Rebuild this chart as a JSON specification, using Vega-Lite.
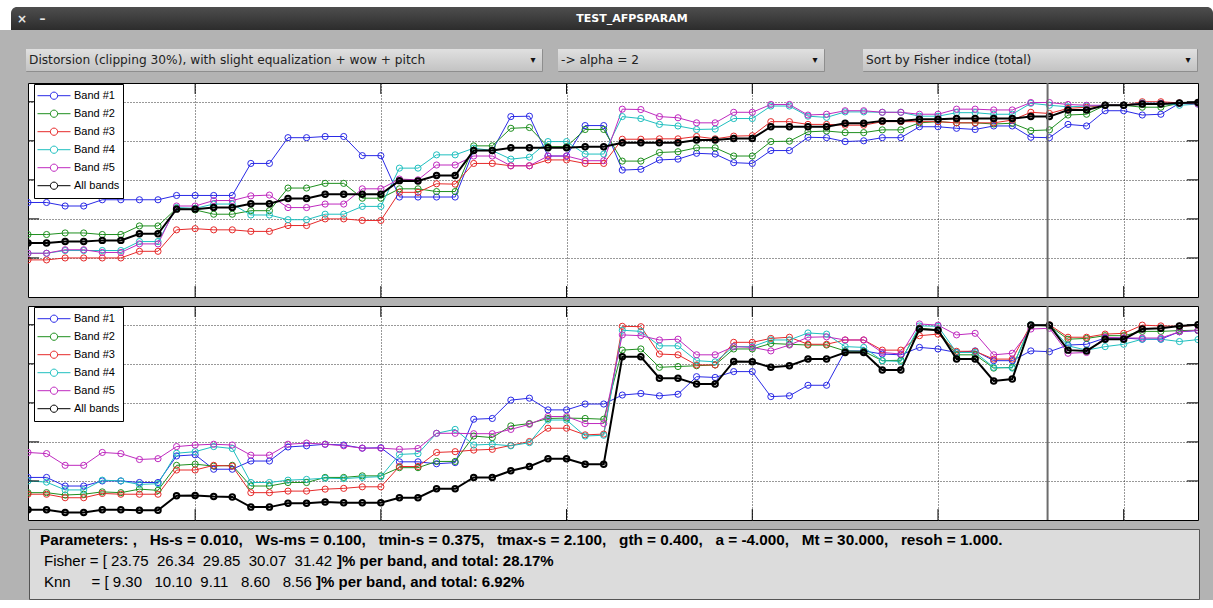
{
"$schema": "https://vega.github.io/schema/vega-lite/v6.json",
"background": "#b3b3b3",
"padding": 0,
"spacing": 8,
"resolve": {"scale": {"color": "independent"}, "legend": {"color": "independent"}},
"config": {"view": {"stroke": null}, "font": "Liberation Sans"},
"datasets": {
"fisher": [
{"band":"Band #1","idx":1,"score":2.42},{"band":"Band #1","idx":2,"score":2.42},{"band":"Band #1","idx":3,"score":2.33},{"band":"Band #1","idx":4,"score":2.33},{"band":"Band #1","idx":5,"score":2.49},{"band":"Band #1","idx":6,"score":2.49},{"band":"Band #1","idx":7,"score":2.49},{"band":"Band #1","idx":8,"score":2.49},{"band":"Band #1","idx":9,"score":2.60},{"band":"Band #1","idx":10,"score":2.60},{"band":"Band #1","idx":11,"score":2.60},{"band":"Band #1","idx":12,"score":2.60},{"band":"Band #1","idx":13,"score":3.42},{"band":"Band #1","idx":14,"score":3.42},{"band":"Band #1","idx":15,"score":4.08},{"band":"Band #1","idx":16,"score":4.08},{"band":"Band #1","idx":17,"score":4.11},{"band":"Band #1","idx":18,"score":4.11},{"band":"Band #1","idx":19,"score":3.62},{"band":"Band #1","idx":20,"score":3.62},{"band":"Band #1","idx":21,"score":2.56},{"band":"Band #1","idx":22,"score":2.56},{"band":"Band #1","idx":23,"score":2.56},{"band":"Band #1","idx":24,"score":2.56},{"band":"Band #1","idx":25,"score":3.75},{"band":"Band #1","idx":26,"score":3.75},{"band":"Band #1","idx":27,"score":4.62},{"band":"Band #1","idx":28,"score":4.63},{"band":"Band #1","idx":29,"score":3.61},{"band":"Band #1","idx":30,"score":3.61},{"band":"Band #1","idx":31,"score":4.39},{"band":"Band #1","idx":32,"score":4.39},{"band":"Band #1","idx":33,"score":3.25},{"band":"Band #1","idx":34,"score":3.27},{"band":"Band #1","idx":35,"score":3.51},{"band":"Band #1","idx":36,"score":3.53},{"band":"Band #1","idx":37,"score":3.68},{"band":"Band #1","idx":38,"score":3.66},{"band":"Band #1","idx":39,"score":3.44},{"band":"Band #1","idx":40,"score":3.42},{"band":"Band #1","idx":41,"score":3.75},{"band":"Band #1","idx":42,"score":3.75},{"band":"Band #1","idx":43,"score":4.09},{"band":"Band #1","idx":44,"score":4.08},{"band":"Band #1","idx":45,"score":3.98},{"band":"Band #1","idx":46,"score":4.00},{"band":"Band #1","idx":47,"score":4.08},{"band":"Band #1","idx":48,"score":4.08},{"band":"Band #1","idx":49,"score":4.36},{"band":"Band #1","idx":50,"score":4.36},{"band":"Band #1","idx":51,"score":4.32},{"band":"Band #1","idx":52,"score":4.29},{"band":"Band #1","idx":53,"score":4.38},{"band":"Band #1","idx":54,"score":4.38},{"band":"Band #1","idx":55,"score":4.09},{"band":"Band #1","idx":56,"score":4.08},{"band":"Band #1","idx":57,"score":4.42},{"band":"Band #1","idx":58,"score":4.38},{"band":"Band #1","idx":59,"score":4.77},{"band":"Band #1","idx":60,"score":4.77},{"band":"Band #1","idx":61,"score":4.66},{"band":"Band #1","idx":62,"score":4.68},{"band":"Band #1","idx":63,"score":4.96},{"band":"Band #1","idx":64,"score":4.97},
{"band":"Band #2","idx":1,"score":1.60},{"band":"Band #2","idx":2,"score":1.60},{"band":"Band #2","idx":3,"score":1.64},{"band":"Band #2","idx":4,"score":1.64},{"band":"Band #2","idx":5,"score":1.60},{"band":"Band #2","idx":6,"score":1.60},{"band":"Band #2","idx":7,"score":1.82},{"band":"Band #2","idx":8,"score":1.82},{"band":"Band #2","idx":9,"score":2.27},{"band":"Band #2","idx":10,"score":2.23},{"band":"Band #2","idx":11,"score":2.12},{"band":"Band #2","idx":12,"score":2.12},{"band":"Band #2","idx":13,"score":2.21},{"band":"Band #2","idx":14,"score":2.21},{"band":"Band #2","idx":15,"score":2.79},{"band":"Band #2","idx":16,"score":2.79},{"band":"Band #2","idx":17,"score":2.91},{"band":"Band #2","idx":18,"score":2.91},{"band":"Band #2","idx":19,"score":2.53},{"band":"Band #2","idx":20,"score":2.53},{"band":"Band #2","idx":21,"score":2.77},{"band":"Band #2","idx":22,"score":2.77},{"band":"Band #2","idx":23,"score":2.70},{"band":"Band #2","idx":24,"score":2.70},{"band":"Band #2","idx":25,"score":3.87},{"band":"Band #2","idx":26,"score":3.87},{"band":"Band #2","idx":27,"score":4.32},{"band":"Band #2","idx":28,"score":4.34},{"band":"Band #2","idx":29,"score":3.85},{"band":"Band #2","idx":30,"score":3.85},{"band":"Band #2","idx":31,"score":4.29},{"band":"Band #2","idx":32,"score":4.29},{"band":"Band #2","idx":33,"score":3.48},{"band":"Band #2","idx":34,"score":3.48},{"band":"Band #2","idx":35,"score":3.70},{"band":"Band #2","idx":36,"score":3.72},{"band":"Band #2","idx":37,"score":3.82},{"band":"Band #2","idx":38,"score":3.82},{"band":"Band #2","idx":39,"score":3.61},{"band":"Band #2","idx":40,"score":3.61},{"band":"Band #2","idx":41,"score":3.98},{"band":"Band #2","idx":42,"score":3.99},{"band":"Band #2","idx":43,"score":4.23},{"band":"Band #2","idx":44,"score":4.25},{"band":"Band #2","idx":45,"score":4.21},{"band":"Band #2","idx":46,"score":4.21},{"band":"Band #2","idx":47,"score":4.28},{"band":"Band #2","idx":48,"score":4.28},{"band":"Band #2","idx":49,"score":4.46},{"band":"Band #2","idx":50,"score":4.49},{"band":"Band #2","idx":51,"score":4.46},{"band":"Band #2","idx":52,"score":4.46},{"band":"Band #2","idx":53,"score":4.43},{"band":"Band #2","idx":54,"score":4.45},{"band":"Band #2","idx":55,"score":4.26},{"band":"Band #2","idx":56,"score":4.28},{"band":"Band #2","idx":57,"score":4.66},{"band":"Band #2","idx":58,"score":4.68},{"band":"Band #2","idx":59,"score":4.91},{"band":"Band #2","idx":60,"score":4.91},{"band":"Band #2","idx":61,"score":4.86},{"band":"Band #2","idx":62,"score":4.86},{"band":"Band #2","idx":63,"score":4.96},{"band":"Band #2","idx":64,"score":4.96},
{"band":"Band #3","idx":1,"score":0.95},{"band":"Band #3","idx":2,"score":0.95},{"band":"Band #3","idx":3,"score":1.00},{"band":"Band #3","idx":4,"score":1.00},{"band":"Band #3","idx":5,"score":1.00},{"band":"Band #3","idx":6,"score":1.00},{"band":"Band #3","idx":7,"score":1.17},{"band":"Band #3","idx":8,"score":1.17},{"band":"Band #3","idx":9,"score":1.72},{"band":"Band #3","idx":10,"score":1.75},{"band":"Band #3","idx":11,"score":1.72},{"band":"Band #3","idx":12,"score":1.72},{"band":"Band #3","idx":13,"score":1.68},{"band":"Band #3","idx":14,"score":1.68},{"band":"Band #3","idx":15,"score":1.83},{"band":"Band #3","idx":16,"score":1.83},{"band":"Band #3","idx":17,"score":2.00},{"band":"Band #3","idx":18,"score":2.00},{"band":"Band #3","idx":19,"score":1.96},{"band":"Band #3","idx":20,"score":1.96},{"band":"Band #3","idx":21,"score":2.68},{"band":"Band #3","idx":22,"score":2.68},{"band":"Band #3","idx":23,"score":2.90},{"band":"Band #3","idx":24,"score":2.89},{"band":"Band #3","idx":25,"score":3.42},{"band":"Band #3","idx":26,"score":3.42},{"band":"Band #3","idx":27,"score":3.36},{"band":"Band #3","idx":28,"score":3.36},{"band":"Band #3","idx":29,"score":3.51},{"band":"Band #3","idx":30,"score":3.51},{"band":"Band #3","idx":31,"score":3.42},{"band":"Band #3","idx":32,"score":3.42},{"band":"Band #3","idx":33,"score":4.04},{"band":"Band #3","idx":34,"score":4.04},{"band":"Band #3","idx":35,"score":4.05},{"band":"Band #3","idx":36,"score":4.05},{"band":"Band #3","idx":37,"score":4.11},{"band":"Band #3","idx":38,"score":4.05},{"band":"Band #3","idx":39,"score":4.12},{"band":"Band #3","idx":40,"score":4.13},{"band":"Band #3","idx":41,"score":4.49},{"band":"Band #3","idx":42,"score":4.49},{"band":"Band #3","idx":43,"score":4.42},{"band":"Band #3","idx":44,"score":4.42},{"band":"Band #3","idx":45,"score":4.40},{"band":"Band #3","idx":46,"score":4.40},{"band":"Band #3","idx":47,"score":4.49},{"band":"Band #3","idx":48,"score":4.49},{"band":"Band #3","idx":49,"score":4.49},{"band":"Band #3","idx":50,"score":4.49},{"band":"Band #3","idx":51,"score":4.46},{"band":"Band #3","idx":52,"score":4.46},{"band":"Band #3","idx":53,"score":4.46},{"band":"Band #3","idx":54,"score":4.53},{"band":"Band #3","idx":55,"score":4.73},{"band":"Band #3","idx":56,"score":4.70},{"band":"Band #3","idx":57,"score":4.83},{"band":"Band #3","idx":58,"score":4.86},{"band":"Band #3","idx":59,"score":4.91},{"band":"Band #3","idx":60,"score":4.91},{"band":"Band #3","idx":61,"score":5.00},{"band":"Band #3","idx":62,"score":5.00},{"band":"Band #3","idx":63,"score":4.97},{"band":"Band #3","idx":64,"score":4.98},
{"band":"Band #4","idx":1,"score":1.12},{"band":"Band #4","idx":2,"score":1.12},{"band":"Band #4","idx":3,"score":1.19},{"band":"Band #4","idx":4,"score":1.19},{"band":"Band #4","idx":5,"score":1.19},{"band":"Band #4","idx":6,"score":1.19},{"band":"Band #4","idx":7,"score":1.42},{"band":"Band #4","idx":8,"score":1.42},{"band":"Band #4","idx":9,"score":2.29},{"band":"Band #4","idx":10,"score":2.27},{"band":"Band #4","idx":11,"score":2.38},{"band":"Band #4","idx":12,"score":2.38},{"band":"Band #4","idx":13,"score":2.10},{"band":"Band #4","idx":14,"score":2.10},{"band":"Band #4","idx":15,"score":1.98},{"band":"Band #4","idx":16,"score":1.98},{"band":"Band #4","idx":17,"score":2.12},{"band":"Band #4","idx":18,"score":2.12},{"band":"Band #4","idx":19,"score":2.32},{"band":"Band #4","idx":20,"score":2.32},{"band":"Band #4","idx":21,"score":3.30},{"band":"Band #4","idx":22,"score":3.30},{"band":"Band #4","idx":23,"score":3.64},{"band":"Band #4","idx":24,"score":3.64},{"band":"Band #4","idx":25,"score":3.81},{"band":"Band #4","idx":26,"score":3.75},{"band":"Band #4","idx":27,"score":3.53},{"band":"Band #4","idx":28,"score":3.58},{"band":"Band #4","idx":29,"score":3.98},{"band":"Band #4","idx":30,"score":3.98},{"band":"Band #4","idx":31,"score":3.66},{"band":"Band #4","idx":32,"score":3.66},{"band":"Band #4","idx":33,"score":4.62},{"band":"Band #4","idx":34,"score":4.57},{"band":"Band #4","idx":35,"score":4.42},{"band":"Band #4","idx":36,"score":4.38},{"band":"Band #4","idx":37,"score":4.29},{"band":"Band #4","idx":38,"score":4.30},{"band":"Band #4","idx":39,"score":4.57},{"band":"Band #4","idx":40,"score":4.57},{"band":"Band #4","idx":41,"score":4.89},{"band":"Band #4","idx":42,"score":4.89},{"band":"Band #4","idx":43,"score":4.63},{"band":"Band #4","idx":44,"score":4.60},{"band":"Band #4","idx":45,"score":4.74},{"band":"Band #4","idx":46,"score":4.74},{"band":"Band #4","idx":47,"score":4.73},{"band":"Band #4","idx":48,"score":4.73},{"band":"Band #4","idx":49,"score":4.63},{"band":"Band #4","idx":50,"score":4.63},{"band":"Band #4","idx":51,"score":4.72},{"band":"Band #4","idx":52,"score":4.72},{"band":"Band #4","idx":53,"score":4.68},{"band":"Band #4","idx":54,"score":4.68},{"band":"Band #4","idx":55,"score":4.96},{"band":"Band #4","idx":56,"score":4.91},{"band":"Band #4","idx":57,"score":4.87},{"band":"Band #4","idx":58,"score":4.89},{"band":"Band #4","idx":59,"score":4.91},{"band":"Band #4","idx":60,"score":4.91},{"band":"Band #4","idx":61,"score":4.97},{"band":"Band #4","idx":62,"score":4.96},{"band":"Band #4","idx":63,"score":4.91},{"band":"Band #4","idx":64,"score":4.94},
{"band":"Band #5","idx":1,"score":1.12},{"band":"Band #5","idx":2,"score":1.12},{"band":"Band #5","idx":3,"score":1.21},{"band":"Band #5","idx":4,"score":1.21},{"band":"Band #5","idx":5,"score":1.14},{"band":"Band #5","idx":6,"score":1.14},{"band":"Band #5","idx":7,"score":1.36},{"band":"Band #5","idx":8,"score":1.36},{"band":"Band #5","idx":9,"score":2.33},{"band":"Band #5","idx":10,"score":2.33},{"band":"Band #5","idx":11,"score":2.47},{"band":"Band #5","idx":12,"score":2.47},{"band":"Band #5","idx":13,"score":2.59},{"band":"Band #5","idx":14,"score":2.61},{"band":"Band #5","idx":15,"score":2.29},{"band":"Band #5","idx":16,"score":2.29},{"band":"Band #5","idx":17,"score":2.38},{"band":"Band #5","idx":18,"score":2.38},{"band":"Band #5","idx":19,"score":2.77},{"band":"Band #5","idx":20,"score":2.77},{"band":"Band #5","idx":21,"score":3.02},{"band":"Band #5","idx":22,"score":3.00},{"band":"Band #5","idx":23,"score":3.38},{"band":"Band #5","idx":24,"score":3.38},{"band":"Band #5","idx":25,"score":3.61},{"band":"Band #5","idx":26,"score":3.61},{"band":"Band #5","idx":27,"score":3.36},{"band":"Band #5","idx":28,"score":3.36},{"band":"Band #5","idx":29,"score":3.61},{"band":"Band #5","idx":30,"score":3.61},{"band":"Band #5","idx":31,"score":3.49},{"band":"Band #5","idx":32,"score":3.49},{"band":"Band #5","idx":33,"score":4.81},{"band":"Band #5","idx":34,"score":4.80},{"band":"Band #5","idx":35,"score":4.62},{"band":"Band #5","idx":36,"score":4.59},{"band":"Band #5","idx":37,"score":4.46},{"band":"Band #5","idx":38,"score":4.46},{"band":"Band #5","idx":39,"score":4.73},{"band":"Band #5","idx":40,"score":4.73},{"band":"Band #5","idx":41,"score":4.93},{"band":"Band #5","idx":42,"score":4.93},{"band":"Band #5","idx":43,"score":4.66},{"band":"Band #5","idx":44,"score":4.68},{"band":"Band #5","idx":45,"score":4.77},{"band":"Band #5","idx":46,"score":4.77},{"band":"Band #5","idx":47,"score":4.73},{"band":"Band #5","idx":48,"score":4.73},{"band":"Band #5","idx":49,"score":4.68},{"band":"Band #5","idx":50,"score":4.68},{"band":"Band #5","idx":51,"score":4.81},{"band":"Band #5","idx":52,"score":4.81},{"band":"Band #5","idx":53,"score":4.79},{"band":"Band #5","idx":54,"score":4.79},{"band":"Band #5","idx":55,"score":4.98},{"band":"Band #5","idx":56,"score":4.98},{"band":"Band #5","idx":57,"score":4.93},{"band":"Band #5","idx":58,"score":4.91},{"band":"Band #5","idx":59,"score":4.91},{"band":"Band #5","idx":60,"score":4.91},{"band":"Band #5","idx":61,"score":4.96},{"band":"Band #5","idx":62,"score":4.96},{"band":"Band #5","idx":63,"score":4.96},{"band":"Band #5","idx":64,"score":4.94},
{"band":"All bands","idx":1,"score":1.38},{"band":"All bands","idx":2,"score":1.38},{"band":"All bands","idx":3,"score":1.42},{"band":"All bands","idx":4,"score":1.42},{"band":"All bands","idx":5,"score":1.45},{"band":"All bands","idx":6,"score":1.45},{"band":"All bands","idx":7,"score":1.62},{"band":"All bands","idx":8,"score":1.62},{"band":"All bands","idx":9,"score":2.25},{"band":"All bands","idx":10,"score":2.25},{"band":"All bands","idx":11,"score":2.29},{"band":"All bands","idx":12,"score":2.29},{"band":"All bands","idx":13,"score":2.39},{"band":"All bands","idx":14,"score":2.39},{"band":"All bands","idx":15,"score":2.52},{"band":"All bands","idx":16,"score":2.52},{"band":"All bands","idx":17,"score":2.63},{"band":"All bands","idx":18,"score":2.63},{"band":"All bands","idx":19,"score":2.63},{"band":"All bands","idx":20,"score":2.63},{"band":"All bands","idx":21,"score":2.98},{"band":"All bands","idx":22,"score":2.97},{"band":"All bands","idx":23,"score":3.11},{"band":"All bands","idx":24,"score":3.11},{"band":"All bands","idx":25,"score":3.75},{"band":"All bands","idx":26,"score":3.75},{"band":"All bands","idx":27,"score":3.82},{"band":"All bands","idx":28,"score":3.82},{"band":"All bands","idx":29,"score":3.82},{"band":"All bands","idx":30,"score":3.82},{"band":"All bands","idx":31,"score":3.85},{"band":"All bands","idx":32,"score":3.85},{"band":"All bands","idx":33,"score":3.95},{"band":"All bands","idx":34,"score":3.95},{"band":"All bands","idx":35,"score":3.95},{"band":"All bands","idx":36,"score":3.95},{"band":"All bands","idx":37,"score":4.02},{"band":"All bands","idx":38,"score":4.02},{"band":"All bands","idx":39,"score":4.06},{"band":"All bands","idx":40,"score":4.06},{"band":"All bands","idx":41,"score":4.36},{"band":"All bands","idx":42,"score":4.36},{"band":"All bands","idx":43,"score":4.36},{"band":"All bands","idx":44,"score":4.36},{"band":"All bands","idx":45,"score":4.45},{"band":"All bands","idx":46,"score":4.45},{"band":"All bands","idx":47,"score":4.51},{"band":"All bands","idx":48,"score":4.51},{"band":"All bands","idx":49,"score":4.55},{"band":"All bands","idx":50,"score":4.55},{"band":"All bands","idx":51,"score":4.57},{"band":"All bands","idx":52,"score":4.57},{"band":"All bands","idx":53,"score":4.57},{"band":"All bands","idx":54,"score":4.57},{"band":"All bands","idx":55,"score":4.62},{"band":"All bands","idx":56,"score":4.62},{"band":"All bands","idx":57,"score":4.79},{"band":"All bands","idx":58,"score":4.79},{"band":"All bands","idx":59,"score":4.91},{"band":"All bands","idx":60,"score":4.91},{"band":"All bands","idx":61,"score":4.94},{"band":"All bands","idx":62,"score":4.94},{"band":"All bands","idx":63,"score":4.97},{"band":"All bands","idx":64,"score":4.98}
],
"knn": [
{"band":"Band #1","idx":1,"score":1.09},{"band":"Band #1","idx":2,"score":1.09},{"band":"Band #1","idx":3,"score":0.87},{"band":"Band #1","idx":4,"score":0.87},{"band":"Band #1","idx":5,"score":1.00},{"band":"Band #1","idx":6,"score":1.00},{"band":"Band #1","idx":7,"score":0.96},{"band":"Band #1","idx":8,"score":0.96},{"band":"Band #1","idx":9,"score":1.64},{"band":"Band #1","idx":10,"score":1.67},{"band":"Band #1","idx":11,"score":1.30},{"band":"Band #1","idx":12,"score":1.30},{"band":"Band #1","idx":13,"score":1.51},{"band":"Band #1","idx":14,"score":1.51},{"band":"Band #1","idx":15,"score":1.87},{"band":"Band #1","idx":16,"score":1.90},{"band":"Band #1","idx":17,"score":1.94},{"band":"Band #1","idx":18,"score":1.92},{"band":"Band #1","idx":19,"score":1.84},{"band":"Band #1","idx":20,"score":1.85},{"band":"Band #1","idx":21,"score":1.49},{"band":"Band #1","idx":22,"score":1.49},{"band":"Band #1","idx":23,"score":1.44},{"band":"Band #1","idx":24,"score":1.47},{"band":"Band #1","idx":25,"score":2.58},{"band":"Band #1","idx":26,"score":2.60},{"band":"Band #1","idx":27,"score":3.07},{"band":"Band #1","idx":28,"score":3.12},{"band":"Band #1","idx":29,"score":2.82},{"band":"Band #1","idx":30,"score":2.82},{"band":"Band #1","idx":31,"score":2.97},{"band":"Band #1","idx":32,"score":2.97},{"band":"Band #1","idx":33,"score":3.20},{"band":"Band #1","idx":34,"score":3.24},{"band":"Band #1","idx":35,"score":3.18},{"band":"Band #1","idx":36,"score":3.22},{"band":"Band #1","idx":37,"score":3.67},{"band":"Band #1","idx":38,"score":3.65},{"band":"Band #1","idx":39,"score":3.80},{"band":"Band #1","idx":40,"score":3.80},{"band":"Band #1","idx":41,"score":3.16},{"band":"Band #1","idx":42,"score":3.18},{"band":"Band #1","idx":43,"score":3.45},{"band":"Band #1","idx":44,"score":3.45},{"band":"Band #1","idx":45,"score":4.33},{"band":"Band #1","idx":46,"score":4.33},{"band":"Band #1","idx":47,"score":4.25},{"band":"Band #1","idx":48,"score":4.23},{"band":"Band #1","idx":49,"score":4.42},{"band":"Band #1","idx":50,"score":4.38},{"band":"Band #1","idx":51,"score":4.29},{"band":"Band #1","idx":52,"score":4.33},{"band":"Band #1","idx":53,"score":4.08},{"band":"Band #1","idx":54,"score":4.08},{"band":"Band #1","idx":55,"score":4.33},{"band":"Band #1","idx":56,"score":4.31},{"band":"Band #1","idx":57,"score":4.48},{"band":"Band #1","idx":58,"score":4.50},{"band":"Band #1","idx":59,"score":4.66},{"band":"Band #1","idx":60,"score":4.66},{"band":"Band #1","idx":61,"score":4.63},{"band":"Band #1","idx":62,"score":4.63},{"band":"Band #1","idx":63,"score":4.82},{"band":"Band #1","idx":64,"score":4.85},
{"band":"Band #2","idx":1,"score":0.70},{"band":"Band #2","idx":2,"score":0.70},{"band":"Band #2","idx":3,"score":0.64},{"band":"Band #2","idx":4,"score":0.66},{"band":"Band #2","idx":5,"score":0.72},{"band":"Band #2","idx":6,"score":0.70},{"band":"Band #2","idx":7,"score":0.79},{"band":"Band #2","idx":8,"score":0.76},{"band":"Band #2","idx":9,"score":1.40},{"band":"Band #2","idx":10,"score":1.43},{"band":"Band #2","idx":11,"score":1.38},{"band":"Band #2","idx":12,"score":1.40},{"band":"Band #2","idx":13,"score":0.87},{"band":"Band #2","idx":14,"score":0.87},{"band":"Band #2","idx":15,"score":0.96},{"band":"Band #2","idx":16,"score":0.96},{"band":"Band #2","idx":17,"score":1.09},{"band":"Band #2","idx":18,"score":1.09},{"band":"Band #2","idx":19,"score":1.13},{"band":"Band #2","idx":20,"score":1.13},{"band":"Band #2","idx":21,"score":1.34},{"band":"Band #2","idx":22,"score":1.34},{"band":"Band #2","idx":23,"score":1.50},{"band":"Band #2","idx":24,"score":1.50},{"band":"Band #2","idx":25,"score":2.15},{"band":"Band #2","idx":26,"score":2.11},{"band":"Band #2","idx":27,"score":2.41},{"band":"Band #2","idx":28,"score":2.47},{"band":"Band #2","idx":29,"score":2.60},{"band":"Band #2","idx":30,"score":2.61},{"band":"Band #2","idx":31,"score":2.60},{"band":"Band #2","idx":32,"score":2.58},{"band":"Band #2","idx":33,"score":4.35},{"band":"Band #2","idx":34,"score":4.38},{"band":"Band #2","idx":35,"score":3.91},{"band":"Band #2","idx":36,"score":3.93},{"band":"Band #2","idx":37,"score":3.95},{"band":"Band #2","idx":38,"score":3.97},{"band":"Band #2","idx":39,"score":4.38},{"band":"Band #2","idx":40,"score":4.38},{"band":"Band #2","idx":41,"score":4.52},{"band":"Band #2","idx":42,"score":4.50},{"band":"Band #2","idx":43,"score":4.48},{"band":"Band #2","idx":44,"score":4.48},{"band":"Band #2","idx":45,"score":4.33},{"band":"Band #2","idx":46,"score":4.32},{"band":"Band #2","idx":47,"score":4.08},{"band":"Band #2","idx":48,"score":4.09},{"band":"Band #2","idx":49,"score":4.91},{"band":"Band #2","idx":50,"score":4.87},{"band":"Band #2","idx":51,"score":4.23},{"band":"Band #2","idx":52,"score":4.23},{"band":"Band #2","idx":53,"score":3.89},{"band":"Band #2","idx":54,"score":3.91},{"band":"Band #2","idx":55,"score":4.99},{"band":"Band #2","idx":56,"score":4.97},{"band":"Band #2","idx":57,"score":4.63},{"band":"Band #2","idx":58,"score":4.65},{"band":"Band #2","idx":59,"score":4.72},{"band":"Band #2","idx":60,"score":4.72},{"band":"Band #2","idx":61,"score":4.83},{"band":"Band #2","idx":62,"score":4.83},{"band":"Band #2","idx":63,"score":4.85},{"band":"Band #2","idx":64,"score":4.86},
{"band":"Band #3","idx":1,"score":0.66},{"band":"Band #3","idx":2,"score":0.66},{"band":"Band #3","idx":3,"score":0.57},{"band":"Band #3","idx":4,"score":0.57},{"band":"Band #3","idx":5,"score":0.68},{"band":"Band #3","idx":6,"score":0.66},{"band":"Band #3","idx":7,"score":0.66},{"band":"Band #3","idx":8,"score":0.66},{"band":"Band #3","idx":9,"score":1.28},{"band":"Band #3","idx":10,"score":1.28},{"band":"Band #3","idx":11,"score":1.40},{"band":"Band #3","idx":12,"score":1.38},{"band":"Band #3","idx":13,"score":0.70},{"band":"Band #3","idx":14,"score":0.70},{"band":"Band #3","idx":15,"score":0.74},{"band":"Band #3","idx":16,"score":0.74},{"band":"Band #3","idx":17,"score":0.79},{"band":"Band #3","idx":18,"score":0.81},{"band":"Band #3","idx":19,"score":0.85},{"band":"Band #3","idx":20,"score":0.85},{"band":"Band #3","idx":21,"score":1.37},{"band":"Band #3","idx":22,"score":1.37},{"band":"Band #3","idx":23,"score":1.73},{"band":"Band #3","idx":24,"score":1.75},{"band":"Band #3","idx":25,"score":1.79},{"band":"Band #3","idx":26,"score":1.81},{"band":"Band #3","idx":27,"score":1.91},{"band":"Band #3","idx":28,"score":2.01},{"band":"Band #3","idx":29,"score":2.35},{"band":"Band #3","idx":30,"score":2.35},{"band":"Band #3","idx":31,"score":2.18},{"band":"Band #3","idx":32,"score":2.20},{"band":"Band #3","idx":33,"score":4.96},{"band":"Band #3","idx":34,"score":4.95},{"band":"Band #3","idx":35,"score":4.25},{"band":"Band #3","idx":36,"score":4.23},{"band":"Band #3","idx":37,"score":3.97},{"band":"Band #3","idx":38,"score":3.97},{"band":"Band #3","idx":39,"score":4.55},{"band":"Band #3","idx":40,"score":4.55},{"band":"Band #3","idx":41,"score":4.65},{"band":"Band #3","idx":42,"score":4.68},{"band":"Band #3","idx":43,"score":4.50},{"band":"Band #3","idx":44,"score":4.50},{"band":"Band #3","idx":45,"score":4.61},{"band":"Band #3","idx":46,"score":4.61},{"band":"Band #3","idx":47,"score":4.35},{"band":"Band #3","idx":48,"score":4.35},{"band":"Band #3","idx":49,"score":4.72},{"band":"Band #3","idx":50,"score":4.76},{"band":"Band #3","idx":51,"score":4.32},{"band":"Band #3","idx":52,"score":4.32},{"band":"Band #3","idx":53,"score":4.12},{"band":"Band #3","idx":54,"score":4.12},{"band":"Band #3","idx":55,"score":5.00},{"band":"Band #3","idx":56,"score":5.00},{"band":"Band #3","idx":57,"score":4.68},{"band":"Band #3","idx":58,"score":4.68},{"band":"Band #3","idx":59,"score":4.76},{"band":"Band #3","idx":60,"score":4.78},{"band":"Band #3","idx":61,"score":4.99},{"band":"Band #3","idx":62,"score":4.97},{"band":"Band #3","idx":63,"score":4.96},{"band":"Band #3","idx":64,"score":4.99},
{"band":"Band #4","idx":1,"score":1.00},{"band":"Band #4","idx":2,"score":0.97},{"band":"Band #4","idx":3,"score":0.77},{"band":"Band #4","idx":4,"score":0.77},{"band":"Band #4","idx":5,"score":1.02},{"band":"Band #4","idx":6,"score":1.00},{"band":"Band #4","idx":7,"score":0.91},{"band":"Band #4","idx":8,"score":0.93},{"band":"Band #4","idx":9,"score":1.71},{"band":"Band #4","idx":10,"score":1.75},{"band":"Band #4","idx":11,"score":1.88},{"band":"Band #4","idx":12,"score":1.83},{"band":"Band #4","idx":13,"score":0.96},{"band":"Band #4","idx":14,"score":0.96},{"band":"Band #4","idx":15,"score":1.02},{"band":"Band #4","idx":16,"score":1.04},{"band":"Band #4","idx":17,"score":1.07},{"band":"Band #4","idx":18,"score":1.06},{"band":"Band #4","idx":19,"score":1.09},{"band":"Band #4","idx":20,"score":1.11},{"band":"Band #4","idx":21,"score":1.68},{"band":"Band #4","idx":22,"score":1.70},{"band":"Band #4","idx":23,"score":2.22},{"band":"Band #4","idx":24,"score":2.32},{"band":"Band #4","idx":25,"score":1.92},{"band":"Band #4","idx":26,"score":1.94},{"band":"Band #4","idx":27,"score":1.90},{"band":"Band #4","idx":28,"score":1.98},{"band":"Band #4","idx":29,"score":2.56},{"band":"Band #4","idx":30,"score":2.56},{"band":"Band #4","idx":31,"score":2.15},{"band":"Band #4","idx":32,"score":2.17},{"band":"Band #4","idx":33,"score":4.86},{"band":"Band #4","idx":34,"score":4.83},{"band":"Band #4","idx":35,"score":4.46},{"band":"Band #4","idx":36,"score":4.46},{"band":"Band #4","idx":37,"score":4.08},{"band":"Band #4","idx":38,"score":4.05},{"band":"Band #4","idx":39,"score":4.44},{"band":"Band #4","idx":40,"score":4.44},{"band":"Band #4","idx":41,"score":4.61},{"band":"Band #4","idx":42,"score":4.61},{"band":"Band #4","idx":43,"score":4.79},{"band":"Band #4","idx":44,"score":4.76},{"band":"Band #4","idx":45,"score":4.44},{"band":"Band #4","idx":46,"score":4.42},{"band":"Band #4","idx":47,"score":4.08},{"band":"Band #4","idx":48,"score":4.06},{"band":"Band #4","idx":49,"score":4.97},{"band":"Band #4","idx":50,"score":4.96},{"band":"Band #4","idx":51,"score":4.29},{"band":"Band #4","idx":52,"score":4.29},{"band":"Band #4","idx":53,"score":3.91},{"band":"Band #4","idx":54,"score":3.89},{"band":"Band #4","idx":55,"score":5.00},{"band":"Band #4","idx":56,"score":4.99},{"band":"Band #4","idx":57,"score":4.46},{"band":"Band #4","idx":58,"score":4.35},{"band":"Band #4","idx":59,"score":4.44},{"band":"Band #4","idx":60,"score":4.50},{"band":"Band #4","idx":61,"score":4.63},{"band":"Band #4","idx":62,"score":4.63},{"band":"Band #4","idx":63,"score":4.57},{"band":"Band #4","idx":64,"score":4.62},
{"band":"Band #5","idx":1,"score":1.73},{"band":"Band #5","idx":2,"score":1.70},{"band":"Band #5","idx":3,"score":1.40},{"band":"Band #5","idx":4,"score":1.40},{"band":"Band #5","idx":5,"score":1.73},{"band":"Band #5","idx":6,"score":1.70},{"band":"Band #5","idx":7,"score":1.55},{"band":"Band #5","idx":8,"score":1.57},{"band":"Band #5","idx":9,"score":1.88},{"band":"Band #5","idx":10,"score":1.92},{"band":"Band #5","idx":11,"score":1.94},{"band":"Band #5","idx":12,"score":1.92},{"band":"Band #5","idx":13,"score":1.66},{"band":"Band #5","idx":14,"score":1.66},{"band":"Band #5","idx":15,"score":1.94},{"band":"Band #5","idx":16,"score":1.97},{"band":"Band #5","idx":17,"score":1.94},{"band":"Band #5","idx":18,"score":1.90},{"band":"Band #5","idx":19,"score":1.84},{"band":"Band #5","idx":20,"score":1.84},{"band":"Band #5","idx":21,"score":1.81},{"band":"Band #5","idx":22,"score":1.83},{"band":"Band #5","idx":23,"score":2.22},{"band":"Band #5","idx":24,"score":2.22},{"band":"Band #5","idx":25,"score":2.21},{"band":"Band #5","idx":26,"score":2.21},{"band":"Band #5","idx":27,"score":2.32},{"band":"Band #5","idx":28,"score":2.45},{"band":"Band #5","idx":29,"score":2.65},{"band":"Band #5","idx":30,"score":2.65},{"band":"Band #5","idx":31,"score":2.47},{"band":"Band #5","idx":32,"score":2.47},{"band":"Band #5","idx":33,"score":4.74},{"band":"Band #5","idx":34,"score":4.72},{"band":"Band #5","idx":35,"score":4.61},{"band":"Band #5","idx":36,"score":4.63},{"band":"Band #5","idx":37,"score":4.23},{"band":"Band #5","idx":38,"score":4.23},{"band":"Band #5","idx":39,"score":4.44},{"band":"Band #5","idx":40,"score":4.42},{"band":"Band #5","idx":41,"score":4.33},{"band":"Band #5","idx":42,"score":4.48},{"band":"Band #5","idx":43,"score":4.68},{"band":"Band #5","idx":44,"score":4.69},{"band":"Band #5","idx":45,"score":4.61},{"band":"Band #5","idx":46,"score":4.61},{"band":"Band #5","idx":47,"score":4.29},{"band":"Band #5","idx":48,"score":4.25},{"band":"Band #5","idx":49,"score":5.02},{"band":"Band #5","idx":50,"score":4.99},{"band":"Band #5","idx":51,"score":4.74},{"band":"Band #5","idx":52,"score":4.78},{"band":"Band #5","idx":53,"score":4.23},{"band":"Band #5","idx":54,"score":4.27},{"band":"Band #5","idx":55,"score":4.89},{"band":"Band #5","idx":56,"score":4.91},{"band":"Band #5","idx":57,"score":4.27},{"band":"Band #5","idx":58,"score":4.29},{"band":"Band #5","idx":59,"score":4.68},{"band":"Band #5","idx":60,"score":4.66},{"band":"Band #5","idx":61,"score":4.66},{"band":"Band #5","idx":62,"score":4.66},{"band":"Band #5","idx":63,"score":4.82},{"band":"Band #5","idx":64,"score":4.86},
{"band":"All bands","idx":1,"score":0.26},{"band":"All bands","idx":2,"score":0.26},{"band":"All bands","idx":3,"score":0.19},{"band":"All bands","idx":4,"score":0.19},{"band":"All bands","idx":5,"score":0.26},{"band":"All bands","idx":6,"score":0.26},{"band":"All bands","idx":7,"score":0.25},{"band":"All bands","idx":8,"score":0.25},{"band":"All bands","idx":9,"score":0.62},{"band":"All bands","idx":10,"score":0.63},{"band":"All bands","idx":11,"score":0.60},{"band":"All bands","idx":12,"score":0.59},{"band":"All bands","idx":13,"score":0.33},{"band":"All bands","idx":14,"score":0.33},{"band":"All bands","idx":15,"score":0.43},{"band":"All bands","idx":16,"score":0.43},{"band":"All bands","idx":17,"score":0.46},{"band":"All bands","idx":18,"score":0.44},{"band":"All bands","idx":19,"score":0.44},{"band":"All bands","idx":20,"score":0.44},{"band":"All bands","idx":21,"score":0.57},{"band":"All bands","idx":22,"score":0.57},{"band":"All bands","idx":23,"score":0.80},{"band":"All bands","idx":24,"score":0.80},{"band":"All bands","idx":25,"score":1.09},{"band":"All bands","idx":26,"score":1.09},{"band":"All bands","idx":27,"score":1.26},{"band":"All bands","idx":28,"score":1.37},{"band":"All bands","idx":29,"score":1.57},{"band":"All bands","idx":30,"score":1.57},{"band":"All bands","idx":31,"score":1.43},{"band":"All bands","idx":32,"score":1.43},{"band":"All bands","idx":33,"score":4.18},{"band":"All bands","idx":34,"score":4.18},{"band":"All bands","idx":35,"score":3.63},{"band":"All bands","idx":36,"score":3.63},{"band":"All bands","idx":37,"score":3.48},{"band":"All bands","idx":38,"score":3.48},{"band":"All bands","idx":39,"score":4.06},{"band":"All bands","idx":40,"score":4.05},{"band":"All bands","idx":41,"score":3.91},{"band":"All bands","idx":42,"score":3.95},{"band":"All bands","idx":43,"score":4.12},{"band":"All bands","idx":44,"score":4.12},{"band":"All bands","idx":45,"score":4.29},{"band":"All bands","idx":46,"score":4.29},{"band":"All bands","idx":47,"score":3.84},{"band":"All bands","idx":48,"score":3.84},{"band":"All bands","idx":49,"score":4.89},{"band":"All bands","idx":50,"score":4.86},{"band":"All bands","idx":51,"score":4.12},{"band":"All bands","idx":52,"score":4.12},{"band":"All bands","idx":53,"score":3.56},{"band":"All bands","idx":54,"score":3.61},{"band":"All bands","idx":55,"score":4.99},{"band":"All bands","idx":56,"score":4.99},{"band":"All bands","idx":57,"score":4.35},{"band":"All bands","idx":58,"score":4.33},{"band":"All bands","idx":59,"score":4.63},{"band":"All bands","idx":60,"score":4.63},{"band":"All bands","idx":61,"score":4.89},{"band":"All bands","idx":62,"score":4.91},{"band":"All bands","idx":63,"score":4.97},{"band":"All bands","idx":64,"score":5.00}
],
"xticks": [{"tick": 10}, {"tick": 20}, {"tick": 30}, {"tick": 40}, {"tick": 50}, {"tick": 60}],
"yticks": [{"tick": 1}, {"tick": 2}, {"tick": 3}, {"tick": 4}, {"tick": 5}]
},
"vconcat": [
{"spacing": 0, "vconcat": [
  {"width": 1213, "height": 7, "view": {"fill": "#ffffff", "stroke": null}, "data": {"values": []}, "mark": "rect"},
  {"spacing": 0, "hconcat": [
    {"width": 11, "height": 23, "view": {"fill": "#ffffff", "stroke": null}, "data": {"values": []}, "mark": "rect"},
    {"width": 1202, "height": 23, "view": {"fill": "#ffffff", "stroke": null},
     "data": {"values": [{"label": "TEST_AFPSPARAM"}]},
     "layer": [
       {"mark": {"type": "rect", "cornerRadiusTopLeft": 6, "cornerRadiusTopRight": 6, "fill": {"gradient": "linear", "x1": 0, "y1": 0, "x2": 0, "y2": 1, "stops": [{"offset": 0, "color": "#4e4e4e"}, {"offset": 1, "color": "#2c2c2c"}]}},
        "encoding": {"x": {"datum": 0, "type": "quantitative", "scale": {"domain": [0, 1]}, "axis": null}, "x2": {"datum": 1}, "y": {"datum": 0, "type": "quantitative", "scale": {"domain": [0, 1]}, "axis": null}, "y2": {"datum": 1}}},
       {"mark": {"type": "text", "font": "DejaVu Sans", "fontWeight": "bold", "fontSize": 11, "color": "#ffffff", "dx": 20},
        "encoding": {"text": {"field": "label"}, "x": {"datum": 0.5, "type": "quantitative"}, "y": {"datum": 0.5, "type": "quantitative"}}},
       {"mark": {"type": "text", "font": "DejaVu Sans", "fontWeight": "bold", "fontSize": 12, "color": "#e6e6e6", "align": "left", "dx": 6},
        "encoding": {"text": {"value": "×\u00a0\u00a0\u00a0–"}, "x": {"datum": 0, "type": "quantitative"}, "y": {"datum": 0.5, "type": "quantitative"}}}
     ]}
  ]},
  {"width": 1, "height": 10, "data": {"values": []}, "mark": "rect"}
]},
{"spacing": 14, "hconcat": [
  {"width": 10.5, "height": 24.5, "data": {"values": []}, "mark": "rect"},
  {"width": 516, "height": 22, "view": {"stroke": "#8e8e8e", "strokeWidth": 1},
   "data": {"values": [{"label": "Distorsion (clipping 30%), with slight equalization + wow + pitch"}]},
   "layer": [
     {"mark": {"type": "rect", "fill": {"gradient": "linear", "x1": 0, "y1": 0, "x2": 0, "y2": 1, "stops": [{"offset": 0, "color": "#e0e0e0"}, {"offset": 1, "color": "#c3c3c3"}]}},
      "encoding": {"x": {"datum": 0, "type": "quantitative", "scale": {"domain": [0, 1]}, "axis": null}, "x2": {"datum": 1}, "y": {"datum": 0, "type": "quantitative", "scale": {"domain": [0, 1]}, "axis": null}, "y2": {"datum": 1}}},
     {"mark": {"type": "text", "font": "DejaVu Sans", "fontSize": 12.2, "color": "#222222", "align": "left", "dx": 3},
      "encoding": {"text": {"field": "label"}, "x": {"datum": 0, "type": "quantitative"}, "y": {"datum": 0.5, "type": "quantitative"}}},
     {"mark": {"type": "text", "font": "DejaVu Sans", "fontSize": 10, "color": "#111111", "dx": -9},
      "encoding": {"text": {"value": "▾"}, "x": {"datum": 1, "type": "quantitative"}, "y": {"datum": 0.5, "type": "quantitative"}}}
   ]},
  {"width": 266, "height": 22, "view": {"stroke": "#8e8e8e", "strokeWidth": 1},
   "data": {"values": [{"label": "-> alpha = 2"}]},
   "layer": [
     {"mark": {"type": "rect", "fill": {"gradient": "linear", "x1": 0, "y1": 0, "x2": 0, "y2": 1, "stops": [{"offset": 0, "color": "#e0e0e0"}, {"offset": 1, "color": "#c3c3c3"}]}},
      "encoding": {"x": {"datum": 0, "type": "quantitative", "scale": {"domain": [0, 1]}, "axis": null}, "x2": {"datum": 1}, "y": {"datum": 0, "type": "quantitative", "scale": {"domain": [0, 1]}, "axis": null}, "y2": {"datum": 1}}},
     {"mark": {"type": "text", "font": "DejaVu Sans", "fontSize": 12.2, "color": "#222222", "align": "left", "dx": 3},
      "encoding": {"text": {"field": "label"}, "x": {"datum": 0, "type": "quantitative"}, "y": {"datum": 0.5, "type": "quantitative"}}},
     {"mark": {"type": "text", "font": "DejaVu Sans", "fontSize": 10, "color": "#111111", "dx": -9},
      "encoding": {"text": {"value": "▾"}, "x": {"datum": 1, "type": "quantitative"}, "y": {"datum": 0.5, "type": "quantitative"}}}
   ]},
  {"width": 9, "height": 24.5, "data": {"values": []}, "mark": "rect"},
  {"width": 334, "height": 22, "view": {"stroke": "#8e8e8e", "strokeWidth": 1},
   "data": {"values": [{"label": "Sort by Fisher indice (total)"}]},
   "layer": [
     {"mark": {"type": "rect", "fill": {"gradient": "linear", "x1": 0, "y1": 0, "x2": 0, "y2": 1, "stops": [{"offset": 0, "color": "#e0e0e0"}, {"offset": 1, "color": "#c3c3c3"}]}},
      "encoding": {"x": {"datum": 0, "type": "quantitative", "scale": {"domain": [0, 1]}, "axis": null}, "x2": {"datum": 1}, "y": {"datum": 0, "type": "quantitative", "scale": {"domain": [0, 1]}, "axis": null}, "y2": {"datum": 1}}},
     {"mark": {"type": "text", "font": "DejaVu Sans", "fontSize": 12.2, "color": "#222222", "align": "left", "dx": 3},
      "encoding": {"text": {"field": "label"}, "x": {"datum": 0, "type": "quantitative"}, "y": {"datum": 0.5, "type": "quantitative"}}},
     {"mark": {"type": "text", "font": "DejaVu Sans", "fontSize": 10, "color": "#111111", "dx": -9},
      "encoding": {"text": {"value": "▾"}, "x": {"datum": 1, "type": "quantitative"}, "y": {"datum": 0.5, "type": "quantitative"}}}
   ]}
]},
{"spacing": 7, "resolve": {"scale": {"color": "independent"}, "legend": {"color": "independent"}}, "vconcat": [
{"spacing": 15, "resolve": {"scale": {"color": "independent"}, "legend": {"color": "independent"}}, "hconcat": [
  {"width": 12, "height": 214, "data": {"values": []}, "mark": "rect"},
  {"width": 1170, "height": 214, "view": {"stroke": "#000000", "strokeWidth": 1, "fill": "#ffffff"},
   "resolve": {"axis": {"x": "independent", "y": "independent"}},
   "layer": [
     {"data": {"name": "fisher"}, "transform": [{"filter": "datum.band !== 'All bands'"}],
      "mark": {"type": "line", "clip": true, "strokeWidth": 1},
      "encoding": {
        "x": {"field": "idx", "type": "quantitative", "scale": {"domain": [1, 64], "nice": false, "zero": false}, "axis": {"orient": "bottom", "values": [10, 20, 30, 40, 50, 60], "labels": false, "domain": false, "ticks": false, "title": null, "grid": true, "gridDash": [1, 2], "gridColor": "#333333", "minExtent": 0}},
        "y": {"field": "score", "type": "quantitative", "scale": {"domain": [0, 5.48], "nice": false, "zero": false}, "axis": {"orient": "left", "values": [1, 2, 3, 4, 5], "labels": false, "domain": false, "ticks": false, "title": null, "grid": true, "gridDash": [1, 2], "gridColor": "#333333", "minExtent": 0}},
        "color": {"field": "band", "type": "nominal", "scale": {"domain": ["Band #1", "Band #2", "Band #3", "Band #4", "Band #5", "All bands"], "range": ["#2a2ae6", "#1f8f1f", "#e62a2a", "#1fbfbf", "#bf2abf", "#000000"]},
          "legend": {"title": null, "orient": "none", "legendX": 6, "legendY": 1, "direction": "vertical", "padding": 3, "fillColor": "#ffffff", "strokeColor": "#000000", "symbolType": "M-1,0L-0.22,0M0.22,0L1,0M-0.22,0A0.22,0.22,0,1,1,0.22,0A0.22,0.22,0,1,1,-0.22,0", "symbolSize": 1089, "symbolFillColor": "transparent", "symbolStrokeWidth": 1, "clipHeight": 17.4, "rowPadding": 0, "labelOffset": 3, "labelFont": "Liberation Sans", "labelFontSize": 11, "labelColor": "#000000"}}
      }},
     {"data": {"name": "fisher"}, "transform": [{"filter": "datum.band !== 'All bands'"}],
      "mark": {"type": "point", "filled": false, "size": 38, "opacity": 1, "strokeWidth": 1, "clip": true},
      "encoding": {
        "x": {"field": "idx", "type": "quantitative", "axis": null},
        "y": {"field": "score", "type": "quantitative", "axis": null},
        "color": {"field": "band", "type": "nominal", "legend": null}
      }},
     {"data": {"name": "fisher"}, "transform": [{"filter": "datum.band === 'All bands'"}],
      "mark": {"type": "line", "clip": true, "strokeWidth": 2},
      "encoding": {
        "x": {"field": "idx", "type": "quantitative", "axis": null},
        "y": {"field": "score", "type": "quantitative", "axis": null},
        "color": {"field": "band", "type": "nominal", "legend": null}
      }},
     {"data": {"name": "fisher"}, "transform": [{"filter": "datum.band === 'All bands'"}],
      "mark": {"type": "point", "filled": false, "size": 30, "opacity": 1, "strokeWidth": 2, "clip": true},
      "encoding": {
        "x": {"field": "idx", "type": "quantitative", "axis": null},
        "y": {"field": "score", "type": "quantitative", "axis": null},
        "color": {"field": "band", "type": "nominal", "legend": null}
      }},
     {"data": {"name": "xticks"}, "mark": {"type": "rule", "color": "#000000", "strokeWidth": 1, "clip": true},
      "encoding": {"x": {"field": "tick", "type": "quantitative", "axis": null}, "y": {"datum": 0, "type": "quantitative", "axis": null}, "y2": {"datum": 0.28}}},
     {"data": {"name": "xticks"}, "mark": {"type": "rule", "color": "#000000", "strokeWidth": 1, "clip": true},
      "encoding": {"x": {"field": "tick", "type": "quantitative", "axis": null}, "y": {"datum": 5.48, "type": "quantitative", "axis": null}, "y2": {"datum": 5.2}}},
     {"data": {"name": "yticks"}, "mark": {"type": "rule", "color": "#000000", "strokeWidth": 1, "clip": true},
      "encoding": {"y": {"field": "tick", "type": "quantitative", "axis": null}, "x": {"datum": 1, "type": "quantitative", "axis": null}, "x2": {"datum": 1.6}}},
     {"data": {"name": "yticks"}, "mark": {"type": "rule", "color": "#000000", "strokeWidth": 1, "clip": true},
      "encoding": {"y": {"field": "tick", "type": "quantitative", "axis": null}, "x": {"datum": 64, "type": "quantitative", "axis": null}, "x2": {"datum": 63.4}}},
     {"data": {"values": [{"cursor": 55.9}]},
      "mark": {"type": "rule", "color": "#6c6c6c", "strokeWidth": 2, "clip": true},
      "encoding": {"x": {"field": "cursor", "type": "quantitative", "axis": null}}}
   ]}
]},
{"spacing": 15, "resolve": {"scale": {"color": "independent"}, "legend": {"color": "independent"}}, "hconcat": [
  {"width": 12, "height": 214, "data": {"values": []}, "mark": "rect"},
  {"width": 1170, "height": 214, "view": {"stroke": "#000000", "strokeWidth": 1, "fill": "#ffffff"},
   "resolve": {"axis": {"x": "independent", "y": "independent"}},
   "layer": [
     {"data": {"name": "knn"}, "transform": [{"filter": "datum.band !== 'All bands'"}],
      "mark": {"type": "line", "clip": true, "strokeWidth": 1},
      "encoding": {
        "x": {"field": "idx", "type": "quantitative", "scale": {"domain": [1, 64], "nice": false, "zero": false}, "axis": {"orient": "bottom", "values": [10, 20, 30, 40, 50, 60], "labels": false, "domain": false, "ticks": false, "title": null, "grid": true, "gridDash": [1, 2], "gridColor": "#333333", "minExtent": 0}},
        "y": {"field": "score", "type": "quantitative", "scale": {"domain": [0, 5.48], "nice": false, "zero": false}, "axis": {"orient": "left", "values": [1, 2, 3, 4, 5], "labels": false, "domain": false, "ticks": false, "title": null, "grid": true, "gridDash": [1, 2], "gridColor": "#333333", "minExtent": 0}},
        "color": {"field": "band", "type": "nominal", "scale": {"domain": ["Band #1", "Band #2", "Band #3", "Band #4", "Band #5", "All bands"], "range": ["#2a2ae6", "#1f8f1f", "#e62a2a", "#1fbfbf", "#bf2abf", "#000000"]},
          "legend": {"title": null, "orient": "none", "legendX": 6, "legendY": 1, "direction": "vertical", "padding": 3, "fillColor": "#ffffff", "strokeColor": "#000000", "symbolType": "M-1,0L-0.22,0M0.22,0L1,0M-0.22,0A0.22,0.22,0,1,1,0.22,0A0.22,0.22,0,1,1,-0.22,0", "symbolSize": 1089, "symbolFillColor": "transparent", "symbolStrokeWidth": 1, "clipHeight": 17.4, "rowPadding": 0, "labelOffset": 3, "labelFont": "Liberation Sans", "labelFontSize": 11, "labelColor": "#000000"}}
      }},
     {"data": {"name": "knn"}, "transform": [{"filter": "datum.band !== 'All bands'"}],
      "mark": {"type": "point", "filled": false, "size": 38, "opacity": 1, "strokeWidth": 1, "clip": true},
      "encoding": {
        "x": {"field": "idx", "type": "quantitative", "axis": null},
        "y": {"field": "score", "type": "quantitative", "axis": null},
        "color": {"field": "band", "type": "nominal", "legend": null}
      }},
     {"data": {"name": "knn"}, "transform": [{"filter": "datum.band === 'All bands'"}],
      "mark": {"type": "line", "clip": true, "strokeWidth": 2},
      "encoding": {
        "x": {"field": "idx", "type": "quantitative", "axis": null},
        "y": {"field": "score", "type": "quantitative", "axis": null},
        "color": {"field": "band", "type": "nominal", "legend": null}
      }},
     {"data": {"name": "knn"}, "transform": [{"filter": "datum.band === 'All bands'"}],
      "mark": {"type": "point", "filled": false, "size": 30, "opacity": 1, "strokeWidth": 2, "clip": true},
      "encoding": {
        "x": {"field": "idx", "type": "quantitative", "axis": null},
        "y": {"field": "score", "type": "quantitative", "axis": null},
        "color": {"field": "band", "type": "nominal", "legend": null}
      }},
     {"data": {"name": "xticks"}, "mark": {"type": "rule", "color": "#000000", "strokeWidth": 1, "clip": true},
      "encoding": {"x": {"field": "tick", "type": "quantitative", "axis": null}, "y": {"datum": 0, "type": "quantitative", "axis": null}, "y2": {"datum": 0.28}}},
     {"data": {"name": "xticks"}, "mark": {"type": "rule", "color": "#000000", "strokeWidth": 1, "clip": true},
      "encoding": {"x": {"field": "tick", "type": "quantitative", "axis": null}, "y": {"datum": 5.48, "type": "quantitative", "axis": null}, "y2": {"datum": 5.2}}},
     {"data": {"name": "yticks"}, "mark": {"type": "rule", "color": "#000000", "strokeWidth": 1, "clip": true},
      "encoding": {"y": {"field": "tick", "type": "quantitative", "axis": null}, "x": {"datum": 1, "type": "quantitative", "axis": null}, "x2": {"datum": 1.6}}},
     {"data": {"name": "yticks"}, "mark": {"type": "rule", "color": "#000000", "strokeWidth": 1, "clip": true},
      "encoding": {"y": {"field": "tick", "type": "quantitative", "axis": null}, "x": {"datum": 64, "type": "quantitative", "axis": null}, "x2": {"datum": 63.4}}},
     {"data": {"values": [{"cursor": 55.9}]},
      "mark": {"type": "rule", "color": "#6c6c6c", "strokeWidth": 2, "clip": true},
      "encoding": {"x": {"field": "cursor", "type": "quantitative", "axis": null}}}
   ]}
]},
{"spacing": 15, "hconcat": [
  {"width": 13, "height": 70, "data": {"values": []}, "mark": "rect"},
  {"width": 1170, "height": 70, "view": {"fill": "#dcdcdc", "stroke": "#555555", "strokeWidth": 1},
   "layer": [
     {"data": {"values": [{"row": 1, "text": "Parameters: ,\u00a0\u00a0\u00a0Hs-s = 0.010,\u00a0\u00a0\u00a0Ws-ms = 0.100,\u00a0\u00a0\u00a0tmin-s = 0.375,\u00a0\u00a0\u00a0tmax-s = 2.100,\u00a0\u00a0\u00a0gth = 0.400,\u00a0\u00a0\u00a0a = -4.000,\u00a0\u00a0\u00a0Mt = 30.000,\u00a0\u00a0\u00a0resoh = 1.000."}]},
      "mark": {"type": "text", "align": "left", "font": "Liberation Sans", "fontSize": 15.3, "fontWeight": "bold", "color": "#000000", "dx": 11},
      "encoding": {"text": {"field": "text"}, "x": {"datum": 0, "type": "quantitative", "scale": {"domain": [0, 1]}, "axis": null}, "y": {"field": "row", "type": "ordinal", "scale": {"type": "point", "domain": [1, 2, 3], "range": [11, 53], "padding": 0}, "axis": null}}},
     {"data": {"values": [{"row": 2, "text": "Fisher = [ 23.75\u00a0\u00a026.34\u00a0\u00a029.85\u00a0\u00a030.07\u00a0\u00a031.42"}]},
      "mark": {"type": "text", "align": "left", "font": "Liberation Sans", "fontSize": 15, "color": "#000000", "dx": 15},
      "encoding": {"text": {"field": "text"}, "x": {"datum": 0, "type": "quantitative"}, "y": {"field": "row", "type": "ordinal"}}},
     {"data": {"values": [{"row": 2, "text": "]% per band, and total: 28.17%"}]},
      "mark": {"type": "text", "align": "left", "font": "Liberation Sans", "fontSize": 15, "fontWeight": "bold", "color": "#000000", "dx": 308},
      "encoding": {"text": {"field": "text"}, "x": {"datum": 0, "type": "quantitative"}, "y": {"field": "row", "type": "ordinal"}}},
     {"data": {"values": [{"row": 3, "text": "Knn\u00a0\u00a0\u00a0\u00a0\u00a0= [ 9.30\u00a0\u00a0\u00a010.10\u00a0\u00a09.11\u00a0\u00a0\u00a08.60\u00a0\u00a0\u00a08.56"}]},
      "mark": {"type": "text", "align": "left", "font": "Liberation Sans", "fontSize": 15, "color": "#000000", "dx": 15},
      "encoding": {"text": {"field": "text"}, "x": {"datum": 0, "type": "quantitative"}, "y": {"field": "row", "type": "ordinal"}}},
     {"data": {"values": [{"row": 3, "text": "]% per band, and total: 6.92%"}]},
      "mark": {"type": "text", "align": "left", "font": "Liberation Sans", "fontSize": 15, "fontWeight": "bold", "color": "#000000", "dx": 287},
      "encoding": {"text": {"field": "text"}, "x": {"datum": 0, "type": "quantitative"}, "y": {"field": "row", "type": "ordinal"}}}
   ]}
]}
]}
]
}
